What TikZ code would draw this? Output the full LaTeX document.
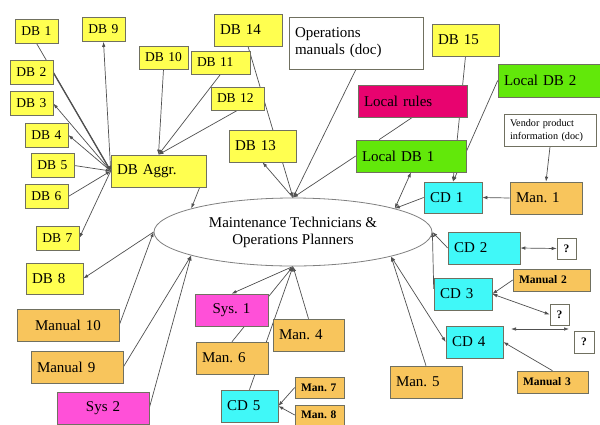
\documentclass[tikz,border=0pt]{standalone}
\usepackage{fontspec}
\setmainfont{Liberation Serif}
\usetikzlibrary{shapes.geometric,arrows.meta,backgrounds}
\frenchspacing

\definecolor{dbyellow}{HTML}{FFFF50}
\definecolor{manorange}{HTML}{F8C55C}
\definecolor{cdcyan}{HTML}{40F8F8}
\definecolor{locgreen}{HTML}{62E80A}
\definecolor{syspink}{HTML}{FF50D8}
\definecolor{rulered}{HTML}{E8036F}
\definecolor{boxline}{HTML}{707060}
\definecolor{linegray}{HTML}{505050}

\newcommand\fbig{\fontsize{15}{17}\selectfont}
\newcommand\fsmall{\fontsize{13.5}{15}\selectfont}
\newcommand\fdoc{\fontsize{10.2}{13.5}\selectfont}
\newcommand\fbold{\fontsize{11.5}{13}\selectfont\bfseries}

\begin{document}
\begin{tikzpicture}[x=1pt,y=-1pt,
    box/.style={draw=boxline,line width=0.6pt,inner xsep=6pt,inner ysep=0pt,align=left,font=\fbig,minimum height=32pt},
    yel/.style={box,fill=dbyellow},
    dbs/.style={yel,font=\fsmall,align=center,text width=31pt,minimum height=24pt},
    man/.style={box,fill=manorange},
    manb/.style={man,font=\fbold,minimum height=22pt},
    cd/.style={box,fill=cdcyan},
    loc/.style={box,fill=locgreen},
    sys/.style={box,fill=syspink,align=center},
    doc/.style={box,fill=white},
    qbox/.style={draw=boxline,line width=0.6pt,fill=white,inner sep=0pt,minimum width=19pt,minimum height=21pt,font=\fbold},
    link/.style={draw=linegray,line width=0.7pt},
    >={Latex[length=5pt,width=3.5pt]}]
\useasboundingbox (0,0) rectangle (600,424);

% centre
\node[ellipse,draw=gray,line width=0.8pt,fill=white,minimum width=278pt,minimum height=68pt,inner sep=0pt,align=center,font=\fbig] (mt) at (293,232) {Maintenance Technicians \&\\Operations Planners};

% databases, left
\foreach \n/\x/\y in {1/36.5/31, 2/31.5/72.5, 3/31.5/103.5, 4/46.5/135, 5/52.5/165.5, 6/46.5/196.5, 7/57.5/238, 9/103.5/29.5}
    \node[dbs] (db\n) at (\x,\y) {DB \n};
\node[yel,text width=45pt,minimum height=31pt] (db8) at (54.5,278.5) {DB 8};
\node[dbs,text width=37pt,minimum height=23pt] (db10) at (163.5,57.5) {DB 10};
\node[yel,font=\fsmall,text width=47pt,minimum height=23pt] (db11) at (220.5,62.5) {DB 11};
\node[yel,font=\fsmall,text width=41pt,minimum height=23pt] (db12) at (237.5,98.5) {DB 12};
\node[yel,text width=56pt] (db14) at (248,30) {DB 14};
\node[yel,text width=55pt] (db13) at (262.5,146) {DB 13};
\node[yel,text width=83pt] (aggr) at (158.5,171) {DB Aggr.};

% top right
\node[doc,text width=122pt,minimum height=52pt] (opman) at (356,43) {Operations\\manuals (doc)};
\node[yel,text width=55pt] (db15) at (465.5,40) {DB 15};
\node[loc,text width=91pt,minimum height=33pt] (ldb2) at (549.5,80.5) {Local DB 2};
\node[box,fill=rulered,text width=97pt] (lrules) at (412.5,101) {Local rules};
\node[doc,font=\fdoc,text width=80pt] (vendor) at (550,130.5) {Vendor product\\information (doc)};
\node[loc,text width=98pt] (ldb1) at (411,156) {Local DB 1};
\node[cd,text width=46pt,minimum height=31pt] (cd1) at (453,197.5) {CD 1};
\node[man,text width=60pt] (man1) at (546,198) {Man. 1};

% right
\node[cd,text width=60pt] (cd2) at (484,248) {CD 2};
\node[qbox] (q1) at (566.5,248.5) {?};
\node[manb,text width=65pt] (man2) at (551.5,280) {Manual 2};
\node[cd,text width=46pt] (cd3) at (463,294) {CD 3};
\node[qbox] (q2) at (559.5,314.5) {?};
\node[cd,text width=45pt] (cd4) at (474.5,342) {CD 4};
\node[qbox,minimum width=20pt,minimum height=22pt] (q3) at (584,342) {?};
\coordinate (qa) at (511,329);
\coordinate (qb) at (569,329);
\node[man,text width=60pt] (man5) at (426,382) {Man. 5};
\node[manb,text width=59pt] (man3) at (552.5,382) {Manual 3};

% bottom
\node[man,text width=59pt] (man4) at (308.5,335) {Man. 4};
\node[sys,text width=61pt] (sys1) at (231.5,310) {Sys. 1};
\node[man,text width=60pt] (man6) at (232,358) {Man. 6};
\node[cd,text width=45pt] (cd5) at (249.5,406) {CD 5};
\node[manb,text width=37pt,minimum height=21pt] (man7) at (319.5,387.5) {Man. 7};
\node[manb,text width=37pt,minimum height=20pt] (man8) at (319.5,415) {Man. 8};
\node[man,align=center,text width=90pt] (man10) at (68,325) {Manual 10};
\node[man,text width=80pt] (man9) at (77,367) {Manual 9};
\node[sys,text width=80pt] (sys2) at (103,408) {Sys 2};

\begin{pgfonlayer}{background}
    \fill[white] (0,0) rectangle (600,424);
    % DB Aggr.
    \draw[link,->] (db1.south) -- (aggr.west);
    \draw[link,->,line width=1.3pt] (db2.east) -- (aggr.west);
    \draw[link,->] (aggr.west) -- (db3.east);
    \draw[link,->] (aggr.west) -- (db4.east);
    \draw[link,->] (db5.east) -- (aggr.west);
    \draw[link,->] (db6.east) -- (aggr.west);
    \draw[link,->] (aggr.west) -- (db7.east);
    \draw[link,->] (aggr.west) -- (db9.south);
    \foreach \n in {10,11,12}
        \draw[link,->] (db\n.south) -- (aggr.north);
    \draw[link,<->] (aggr.east) -- (mt.167);
    % top
    \draw[link,->] (db14.south) -- (mt.north);
    \draw[link,->] (mt.north) -- (db13.south);
    \draw[link,->] (opman.south) -- (mt.north);
    \draw[link,->] (ldb1.west) -- (mt.north);
    \draw[link] (lrules.south) -- (ldb1.153);
    \draw[link,->] (db15.south) -- (cd1.north);
    \draw[link,->] (ldb2.west) -- (cd1.north);
    \draw[link,->] (vendor.south) -- (man1.north);
    \draw[link,->] (man1.west) -- (cd1.east);
    \draw[link,<->] (ldb1.south) -- (mt.13);
    \draw[link,->] (cd1.west) -- (mt.13);
    % right
    \draw[link,->] (cd2.west) -- (mt.east);
    \draw[link,->] (cd3.170) -- (mt.east);
    \draw[link,<->] (cd2.east) -- (q1.west);
    \draw[link,->] (man2.west) -- (cd3.east);
    \draw[link,<->] (cd3.east) -- (q2.west);
    \draw[link,<->] (qa) -- (qb);
    \draw[link,->] (man3.north) -- (cd4.east);
    \draw[link,<->] (cd4.west) -- (mt.-14);
    \draw[link,->] (man5.north) -- (mt.-14);
    % left and bottom
    \draw[link,->] (man10.east) -- (mt.west);
    \draw[link,->] (mt.west) -- (db8.east);
    \draw[link,->] (man9.east) -- (mt.193);
    \draw[link,->] (sys2.east) -- (mt.193);
    \draw[link,->] (mt.south) -- (sys1.north);
    \draw[link,->] (man6.north) -- (mt.south);
    \draw[link,->] (cd5.north) -- (mt.south);
    \draw[link,->] (man4.north) -- (mt.south);
    \draw[link,->] (man7.west) -- (cd5.east);
    \draw[link,->] (man8.west) -- (cd5.east);
\end{pgfonlayer}
\end{tikzpicture}
\end{document}
